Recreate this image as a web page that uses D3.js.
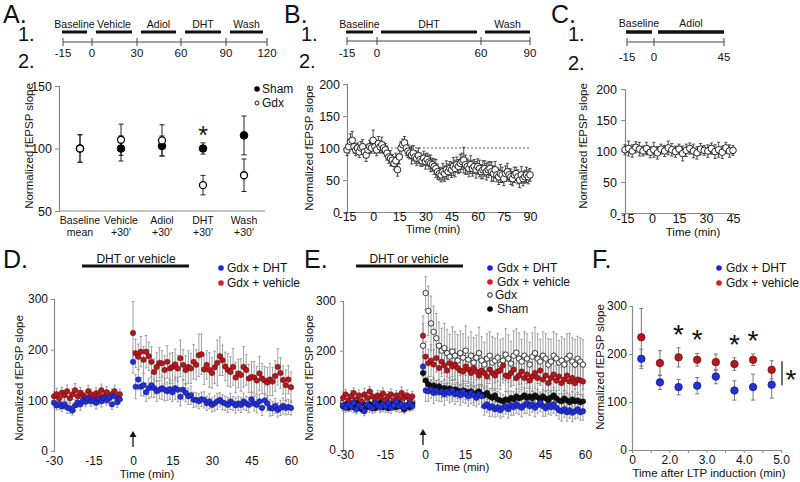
<!DOCTYPE html>
<html><head><meta charset="utf-8">
<script src="https://cdn.jsdelivr.net/npm/d3@7"></script>
<style>body{margin:0;background:#fff}svg{display:block}</style>
</head><body><script>
// ================= DATA =================
// Panel A
const phasesA = ["Baseline","Vehicle","Adiol","DHT","Wash"];
const phaseStartA = [-15,0,30,60,90];
const phaseEndA = [0,30,60,90,120];
const timeTicksA = [-15,0,30,60,90,120];
const catsA = ["Baseline","Vehicle","Adiol","DHT","Wash"];
const catSubA = ["mean","+30'","+30'","+30'","+30'"];
const shamA = [100,100,102,100,110.5];
const shamErrA = [11,10,8,4.5,15.5];
const gdxA = [100,107,106.5,70.7,78.6];
const gdxErrA = [11,12.5,12.5,7.8,13];
const yTicksA = [50,100,150];
const sigA = ["DHT"];
// Panel B
const phasesB = ["Baseline","DHT","Wash"];
const phaseStartB = [-15,0,60];
const phaseEndB = [0,60,90];
const timeTicksB = [-15,0,60,90];
const startB = -15;
const slopeB = [97,102,110,112,102,97,100,94,100,102,94,89,97,102,100,
  112,102,97,107,102,105,100,97,92,86,84,81,76,80,66,
  86,100,105,108,100,95,92,89,92,86,84,88,82,80,84,
  79,82,78,76,74,71,68,63,60,58,63,60,66,63,68,
  66,71,68,74,71,76,79,81,74,71,68,74,68,71,66,
  71,68,63,66,68,63,66,68,63,60,66,58,55,60,58,
  52,60,63,58,55,52,58,60,55,50,58,52,55,58,55,58];
const errB = [9,10,12,14,10,9,8,9,10,11,9,10,9,10,8,
  16,10,9,11,10,12,9,10,11,10,12,9,10,12,10,
  11,10,9,10,12,10,9,14,12,10,11,12,10,9,11,
  12,10,11,13,10,12,14,12,10,11,13,12,14,12,11,
  12,14,13,12,11,14,13,20,15,12,13,14,12,11,13,
  12,13,11,14,12,13,12,11,15,12,13,11,12,14,12,
  11,12,13,10,12,11,12,10,11,12,13,11,10,12,11,10];
const yTicksBC = [0,50,100,150,200];
const xTicksB = [-15,0,15,30,45,60,75,90];
// Panel C
const phasesC = ["Baseline","Adiol"];
const phaseStartC = [-15,0];
const phaseEndC = [0,45];
const timeTicksC = [-15,0,45];
const startC = -15, stepC = 2;
const slopeC = [102,104,100,106,103,100,104,98,102,97,103,100,105,102,99,103,96,101,104,100,97,103,101,100,104,99,102,98,105,100,101];
const errC = [8,12,10,9,11,8,10,9,12,10,8,9,11,10,9,8,12,10,9,11,10,9,8,10,9,11,12,10,9,10,8];
const xTicksC = [-15,0,15,30,45];
// Panel D
const dBaseStart = -30;
const dRedBase = [108,112,104,115,110,118,104,112,120,108,115,110,106,118,112,105,114,110,120,108,116,104,112,118,106,112];
const dRedBaseErr = [10,12,9,11,10,12,9,10,13,10,11,9,10,12,10,9,11,10,12,10,11,9,10,12,9,10];
const dBlueBase = [95,90,93,88,92,86,84,80,90,96,92,100,97,104,98,100,95,102,98,104,100,106,92,108,96,102];
const dBlueBaseErr = [10,9,11,10,9,12,10,9,11,10,12,9,10,11,10,9,12,10,11,10,9,12,10,11,10,9];
const dRed = [233,193,186,196,180,196,187,176,156,166,174,173,160,176,163,166,171,163,183,170,160,166,163,176,170,189,191,161,170,160,154,165,174,187,179,167,160,156,166,145,153,150,166,160,143,146,145,139,153,143,139,135,141,137,148,166,154,140,130,141,126];
const dRedErr = [62,28,25,30,26,32,28,30,26,28,30,25,28,32,30,28,30,26,36,30,28,32,30,34,30,42,40,30,28,34,30,32,45,38,30,28,32,30,36,30,28,32,40,30,28,30,32,28,34,30,28,30,32,28,30,36,30,28,30,28,30];
const dBlue = [176,127,141,127,130,116,124,130,124,118,121,124,121,118,122,116,124,121,107,121,115,108,110,101,101,98,102,101,94,98,91,94,98,101,96,94,91,98,94,90,94,91,98,94,91,102,94,91,98,85,100,94,85,84,89,81,85,89,85,87,85];
const dBlueErr = [22,24,20,18,22,18,20,24,18,20,18,22,22,18,20,18,22,24,18,20,18,16,18,15,14,15,14,16,14,15,14,15,16,14,15,14,15,16,14,15,14,15,16,14,15,14,15,16,14,15,14,15,16,14,15,14,15,16,14,15,14];
const xTicksDE = [-30,-15,0,15,30,45,60];
const yTicksDEF = [0,100,200,300];
// Panel E
const eBaseStart = -30;
const eRedBase = [105,112,100,108,115,102,110,98,112,105,118,108,100,110,106,114,102,108,112,100,110,104,115,106,110,100,108];
const eRedBaseErr = [12,10,11,12,10,13,11,10,12,11,10,12,11,10,13,11,12,10,11,12,10,11,12,10,11,12,10];
const eBlueBase = [90,85,92,88,95,82,90,86,78,92,88,84,95,90,86,92,88,95,85,90,98,88,92,85,90,94,88];
const eBlueBaseErr = [10,9,11,10,12,9,10,11,9,10,12,10,9,11,10,9,12,10,11,9,10,12,10,9,11,10,9];
const eShamBase = [88,92,85,90,86,94,88,82,90,86,92,88,84,90,95,86,90,84,92,88,86,94,88,82,90,86,92];
const eShamBaseErr = [9,10,8,9,11,10,9,8,10,9,11,10,9,8,10,9,11,9,10,8,9,10,11,9,10,8,9];
const eGdxBase = [95,98,92,100,96,90,98,94,102,96,92,100,95,98,90,96,100,94,98,92,96,100,88,95,98,92,96];
const eGdxBaseErr = [12,14,11,13,12,15,12,13,11,14,12,13,15,12,11,13,12,14,12,13,11,14,12,13,12,11,13];
const eRed = [230,188,175,180,172,185,165,178,170,160,175,168,172,165,160,158,168,162,155,165,158,150,160,155,148,162,155,150,158,160,170,150,148,155,162,145,150,158,145,152,140,148,155,145,160,142,150,135,145,152,140,148,135,142,150,138,145,135,142,140,138];
const eRedErr = [40,30,28,32,30,28,32,30,28,35,30,28,32,30,28,32,30,28,32,30,35,30,28,32,30,28,32,30,35,30,28,32,30,28,32,30,28,32,30,28,35,30,28,32,30,28,32,30,28,32,30,28,32,30,35,30,28,32,30,28,30];
const eBlue = [168,120,118,122,115,120,116,118,112,118,115,120,112,115,110,118,112,108,115,110,105,112,108,88,92,85,88,82,86,80,85,88,82,90,86,92,88,85,90,94,88,92,85,90,95,88,84,90,86,92,85,80,78,82,76,80,75,78,82,76,78];
const eBlueErr = [20,22,20,18,22,20,18,20,22,18,20,22,20,18,20,22,18,20,22,20,18,20,22,18,16,18,20,16,18,16,18,16,18,20,16,18,16,18,16,20,18,16,18,16,18,20,16,18,16,18,16,18,20,16,18,16,18,16,18,16,18];
const eSham = [155,140,132,128,130,125,128,122,125,120,124,118,122,120,116,120,118,115,118,112,115,118,112,110,115,108,105,110,102,100,98,102,100,105,102,108,104,106,110,105,108,104,110,106,102,108,104,100,106,110,104,100,98,104,100,96,102,98,100,96,98];
const eShamErr = [18,16,15,14,16,15,14,16,15,14,16,15,14,16,15,14,16,15,14,16,15,14,16,15,14,16,15,14,16,15,14,16,15,14,16,15,14,16,15,14,16,15,14,16,15,14,16,15,14,16,15,14,16,15,14,16,15,14,16,15,14];
const eGdx = [210,316,280,255,238,225,210,200,205,195,188,198,190,180,195,186,200,182,190,176,186,195,180,172,184,190,176,180,186,172,180,192,184,174,190,196,184,178,190,184,172,188,195,184,178,190,184,172,178,190,184,176,180,172,184,190,178,172,184,178,172];
const eGdxErr = [45,33,50,55,52,50,48,45,50,48,45,50,48,52,45,48,50,45,48,50,45,52,48,45,50,48,52,45,48,50,45,52,48,45,50,48,52,45,48,50,45,48,52,50,45,48,50,52,45,48,50,45,48,52,50,45,48,50,45,48,50];
// Panel F
const fBins = [0.25,0.75,1.25,1.75,2.25,2.75,3.25,3.75];
const fDHT = [190,141,131,134,153,124,131,136];
const fDHTErr = [20,15,16,17,15,20,27,28];
const fVeh = [235,181,193,188,183,179,188,167];
const fVehErr = [60,26,20,13,17,13,12,19];
const fSig = [1.25,1.75,2.75,3.25];
const fTickVals = [0,0.5,1,1.5,2,2.5,3,3.5,4];
const fTickLabels = ["0","","2.0","","3.0","","4.0","","5.0"];
const fSigBar = [185,135];

// ================= DRAW =================
const FONT = "'Liberation Sans', Arial, Helvetica, sans-serif";
const AX = "#8a8a8a";
const BLUE = "#2230d8", BLUE_E = "#0c1170", RED = "#b5171c", RED_E = "#5c0808";
const svg = d3.select("body").append("svg").attr("width",800).attr("height",482)
  .attr("font-family",FONT);
svg.append("rect").attr("width",800).attr("height",482).attr("fill","#fff");

function text(g,x,y,s,size,anchor,extra){
  const t = g.append("text").attr("x",x).attr("y",y).text(s)
    .attr("font-size",size).attr("fill","#111").attr("text-anchor",anchor||"start");
  if(extra) extra(t);
  return t;
}
function vlabel(g,x,y,s,size){
  g.append("text").attr("transform",`translate(${x},${y}) rotate(-90)`)
    .attr("text-anchor","middle").attr("font-size",size).attr("fill","#111").text(s);
}
function styleAxis(sel,fs){
  sel.attr("font-family",FONT).attr("font-size",fs);
  sel.select(".domain").attr("stroke",AX).attr("stroke-width",1.2);
  sel.selectAll(".tick line").attr("stroke",AX);
  sel.selectAll(".tick text").attr("fill","#111");
}
function timeline(g,sc,phases,starts,ends,ticks,o){
  phases.forEach((p,i)=>{
    const x1 = sc(starts[i]) + (i===0? -1 : o.inL);
    const x2 = sc(ends[i]) - (i===phases.length-1 ? o.inLast : o.inR);
    g.append("line").attr("x1",x1).attr("x2",x2).attr("y1",o.barY).attr("y2",o.barY)
      .attr("stroke","#111").attr("stroke-width",o.barW);
    text(g,(x1+x2)/2,o.labY,p,10.5,"middle");
  });
  g.append("line").attr("x1",sc(ticks[0])).attr("x2",sc(ticks[ticks.length-1]))
    .attr("y1",o.axY).attr("y2",o.axY).attr("stroke","#444").attr("stroke-width",1);
  ticks.forEach(t=>{
    g.append("line").attr("x1",sc(t)).attr("x2",sc(t)).attr("y1",o.axY-4).attr("y2",o.axY+4)
      .attr("stroke","#444");
    text(g,sc(t),o.tickY,String(t),11.5,"middle");
  });
}
function errBars(g,xs,vals,errs,x,y,color,cap,w){
  vals.forEach((v,i)=>{
    const e = errs[i]; const cx = x(xs[i]);
    g.append("line").attr("x1",cx).attr("x2",cx).attr("y1",y(v+e)).attr("y2",y(v-e))
      .attr("stroke",color).attr("stroke-width",w);
    [v+e,v-e].forEach(vv=>g.append("line").attr("x1",cx-cap).attr("x2",cx+cap)
      .attr("y1",y(vv)).attr("y2",y(vv)).attr("stroke",color).attr("stroke-width",w));
  });
}
function dots(g,xs,vals,x,y,r,fill,stroke,sw){
  g.selectAll(null).data(vals).enter().append("circle")
    .attr("cx",(d,i)=>x(xs[i])).attr("cy",d=>y(d)).attr("r",r)
    .attr("fill",fill).attr("stroke",stroke).attr("stroke-width",sw);
}
function asterisk(g,cx,cy,fs){ text(g,cx,cy+0.57*fs,"*",fs,"middle"); }

// ---------- Panel A ----------
{
  const g = svg.append("g");
  text(g,3,23,"A.",25);
  text(g,18,41,"1.",20); text(g,18,68,"2.",20);
  const sc = d3.scaleLinear().domain(timeTicksA).range([63,92,137,181,226,267]);
  timeline(g,sc,phasesA,phaseStartA,phaseEndA,timeTicksA,{inL:4,inR:5,inLast:4,barY:32,barW:3,labY:28,axY:42,tickY:57});
  const y = d3.scaleLinear().domain([50,150]).range([211,86]);
  const x = d3.scalePoint().domain(catsA).range([80,244]);
  const ax = g.append("g").attr("transform","translate(59,0)")
    .call(d3.axisLeft(y).tickValues(yTicksA).tickSize(4).tickPadding(3).tickFormat(String));
  styleAxis(ax,12.5);
  g.append("line").attr("x1",59).attr("x2",265).attr("y1",211).attr("y2",211).attr("stroke",AX).attr("stroke-width",1.2);
  catsA.forEach((c,i)=>{ text(g,x(c),224,c,10.5,"middle"); text(g,x(c),236,catSubA[i],10.5,"middle"); });
  vlabel(g,33,146,"Normalized fEPSP slope",11.5);
  errBars(g,catsA,gdxA,gdxErrA,x,y,"#222",2.5,1);
  errBars(g,catsA,shamA,shamErrA,x,y,"#222",2.5,1);
  dots(g,catsA,shamA,x,y,3.8,"#000","#000",1);
  dots(g,catsA,gdxA,x,y,3.5,"#fff","#000",1.3);
  sigA.forEach(c=>{ const i=catsA.indexOf(c); asterisk(g,x(c),y(shamA[i]+shamErrA[i])-13,25); });
  g.append("circle").attr("cx",257).attr("cy",89).attr("r",2.8).attr("fill","#000");
  text(g,262,93,"Sham",12);
  g.append("circle").attr("cx",257).attr("cy",103).attr("r",2).attr("fill","#fff").attr("stroke","#000").attr("stroke-width",0.9);
  text(g,262,107,"Gdx",12);
}
// ---------- Panel B ----------
{
  const g = svg.append("g");
  text(g,284,23,"B.",25);
  text(g,301,41,"1.",20); text(g,299,68,"2.",20);
  const sc = d3.scaleLinear().domain(timeTicksB).range([347,377,481,530]);
  timeline(g,sc,phasesB,phaseStartB,phaseEndB,timeTicksB,{inL:4,inR:4,inLast:0,barY:32,barW:3,labY:28,axY:41,tickY:57});
  const x = d3.scaleLinear().domain([-15,90]).range([347,530]);
  const y = d3.scaleLinear().domain([0,200]).range([212,84]);
  const ts = slopeB.map((d,i)=>startB+i);
  g.append("line").attr("x1",x(-15)).attr("x2",x(90)).attr("y1",y(100)).attr("y2",y(100))
    .attr("stroke","#333").attr("stroke-width",0.8).attr("stroke-dasharray","2,2");
  const ay = g.append("g").attr("transform","translate(347,0)")
    .call(d3.axisLeft(y).tickValues(yTicksBC).tickSize(4).tickPadding(3).tickFormat(String));
  styleAxis(ay,12.5);
  const axb = g.append("g").attr("transform","translate(0,212)")
    .call(d3.axisBottom(x).tickValues(xTicksB).tickSize(2).tickPadding(-2).tickFormat(String));
  styleAxis(axb,12.5);
  vlabel(g,313,148,"Normalized fEPSP slope",11.5);
  text(g,433,233,"Time (min)",11.5,"middle");
  errBars(g,ts,slopeB,errB,x,y,"#3a3a3a",1.6,0.9);
  dots(g,ts,slopeB,x,y,3.3,"#fff","#222",1);
}
// ---------- Panel C ----------
{
  const g = svg.append("g");
  text(g,551,23,"C.",25);
  text(g,568,41,"1.",20); text(g,568,70,"2.",20);
  const sc = d3.scaleLinear().domain(timeTicksC).range([627,654,724]);
  timeline(g,sc,phasesC,phaseStartC,phaseEndC,timeTicksC,{inL:4,inR:2,inLast:0,barY:32,barW:3.5,labY:27,axY:42,tickY:61});
  const x = d3.scaleLinear().domain([-15,45]).range([625,733]);
  const y = d3.scaleLinear().domain([0,200]).range([213,89]);
  const ts = slopeC.map((d,i)=>startC+i*stepC);
  const ay = g.append("g").attr("transform","translate(625,0)")
    .call(d3.axisLeft(y).tickValues(yTicksBC).tickSize(4).tickPadding(4).tickFormat(String));
  styleAxis(ay,12.5);
  const axb = g.append("g").attr("transform","translate(0,213)")
    .call(d3.axisBottom(x).tickValues(xTicksC).tickSize(2).tickPadding(-1).tickFormat(String));
  styleAxis(axb,12.5);
  vlabel(g,587,146,"Normalized fEPSP slope",11.5);
  text(g,693,236,"Time (min)",11.5,"middle");
  errBars(g,ts,slopeC,errC,x,y,"#3a3a3a",1.6,0.9);
  dots(g,ts,slopeC,x,y,3.3,"#fff","#222",1);
}
// ---------- Panel D ----------
{
  const g = svg.append("g");
  text(g,3,268,"D.",25);
  const x = d3.scaleLinear().domain([-30,60]).range([54,291]);
  const y = d3.scaleLinear().domain([0,300]).range([451,299]);
  g.append("line").attr("x1",82).attr("x2",189).attr("y1",266).attr("y2",266).attr("stroke","#111").attr("stroke-width",3);
  text(g,136,263,"DHT or vehicle",12,"middle");
  g.append("circle").attr("cx",221).attr("cy",268).attr("r",2.8).attr("fill","#1a22e6");
  text(g,227,272,"Gdx + DHT",12);
  g.append("circle").attr("cx",221).attr("cy",283).attr("r",2.8).attr("fill","#e0191e");
  text(g,227,287,"Gdx + vehicle",12);
  const ay = g.append("g").attr("transform","translate(54,0)")
    .call(d3.axisLeft(y).tickValues(yTicksDEF).tickSize(3).tickPadding(3).tickFormat(String));
  styleAxis(ay,12);
  const axb = g.append("g").attr("transform","translate(0,451)")
    .call(d3.axisBottom(x).tickValues(xTicksDE).tickSize(0).tickPadding(5).tickFormat(String));
  styleAxis(axb,12); axb.select(".domain").remove();
  vlabel(g,23,378,"Normalized fEPSP slope",11.5);
  text(g,147,478,"Time (min)",11.5,"middle");
  const tb = dRedBase.map((d,i)=>dBaseStart+i), tp = dRed.map((d,i)=>i);
  errBars(g,tb,dRedBase,dRedBaseErr,x,y,"#8c8c8c",1.3,0.8);
  errBars(g,tp,dRed,dRedErr,x,y,"#8c8c8c",1.3,0.8);
  errBars(g,tb,dBlueBase,dBlueBaseErr,x,y,"#8c8c8c",1.3,0.8);
  errBars(g,tp,dBlue,dBlueErr,x,y,"#8c8c8c",1.3,0.8);
  dots(g,tb,dRedBase,x,y,2.7,RED,RED_E,0.5);
  dots(g,tp,dRed,x,y,2.7,RED,RED_E,0.5);
  dots(g,tb,dBlueBase,x,y,2.7,BLUE,BLUE_E,0.5);
  dots(g,tp,dBlue,x,y,2.7,BLUE,BLUE_E,0.5);
  g.append("line").attr("x1",x(0)).attr("x2",x(0)).attr("y1",447).attr("y2",436).attr("stroke","#111").attr("stroke-width",1.3);
  g.append("path").attr("d",`M${x(0)-3.5},437 L${x(0)},431 L${x(0)+3.5},437 Z`).attr("fill","#111");
}
// ---------- Panel E ----------
{
  const g = svg.append("g");
  text(g,304,268,"E.",25);
  const x = d3.scaleLinear().domain([-30,60]).range([343,583]);
  const y = d3.scaleLinear().domain([0,300]).range([450,301]);
  g.append("line").attr("x1",356).attr("x2",463).attr("y1",266).attr("y2",266).attr("stroke","#111").attr("stroke-width",3);
  text(g,409,263,"DHT or vehicle",12,"middle");
  g.append("circle").attr("cx",490).attr("cy",268).attr("r",2.8).attr("fill","#1a22e6");
  text(g,497,272,"Gdx + DHT",12);
  g.append("circle").attr("cx",490).attr("cy",282).attr("r",2.8).attr("fill","#e0191e");
  text(g,497,286,"Gdx + vehicle",12);
  g.append("circle").attr("cx",490).attr("cy",295).attr("r",2.3).attr("fill","#fff").attr("stroke","#111").attr("stroke-width",1);
  text(g,495,299,"Gdx",12);
  g.append("circle").attr("cx",490).attr("cy",309).attr("r",2.8).attr("fill","#000");
  text(g,497,313,"Sham",12);
  const ay = g.append("g").attr("transform","translate(343,0)")
    .call(d3.axisLeft(y).tickValues(yTicksDEF).tickSize(3).tickPadding(4).tickFormat(String));
  styleAxis(ay,12);
  const axb = g.append("g").attr("transform","translate(2,450)")
    .call(d3.axisBottom(x).tickValues(xTicksDE).tickSize(0).tickPadding(0).tickFormat(String));
  styleAxis(axb,12); axb.select(".domain").remove();
  vlabel(g,313,378,"Normalized fEPSP slope",11.5);
  text(g,462,471,"Time (min)",11.5,"middle");
  const tb = eRedBase.map((d,i)=>eBaseStart+i), tp = eRed.map((d,i)=>i);
  const series = [
    [eGdxBase,eGdxBaseErr,eGdx,eGdxErr,"#fff","#222",2.7],
    [eRedBase,eRedBaseErr,eRed,eRedErr,RED,RED_E,2.7],
    [eShamBase,eShamBaseErr,eSham,eShamErr,"#111","#000",2.7],
    [eBlueBase,eBlueBaseErr,eBlue,eBlueErr,BLUE,BLUE_E,2.7]
  ];
  series.forEach(s=>{
    errBars(g,tb,s[0],s[1],x,y,"#8c8c8c",1.3,0.8);
    errBars(g,tp,s[2],s[3],x,y,"#8c8c8c",1.3,0.8);
  });
  series.forEach(s=>{
    dots(g,tb,s[0],x,y,s[6],s[4],s[5],s[4]==="#fff"?0.9:0.5);
    dots(g,tp,s[2],x,y,s[6],s[4],s[5],s[4]==="#fff"?0.9:0.5);
  });
  g.append("line").attr("x1",x(0)).attr("x2",x(0)).attr("y1",445).attr("y2",434).attr("stroke","#111").attr("stroke-width",1.3);
  g.append("path").attr("d",`M${x(0)-3.5},435 L${x(0)},429 L${x(0)+3.5},435 Z`).attr("fill","#111");
}
// ---------- Panel F ----------
{
  const g = svg.append("g");
  text(g,592,268,"F.",25);
  const x = d3.scaleLinear().domain([0,4]).range([632,781]);
  const y = d3.scaleLinear().domain([0,300]).range([450,306]);
  g.append("circle").attr("cx",719).attr("cy",268).attr("r",2.8).attr("fill","#1a22e6");
  text(g,726,272,"Gdx + DHT",12);
  g.append("circle").attr("cx",719).attr("cy",283).attr("r",2.8).attr("fill","#e0191e");
  text(g,726,287,"Gdx + vehicle",12);
  const ay = g.append("g").attr("transform","translate(632,0)")
    .call(d3.axisLeft(y).tickValues(yTicksDEF).tickSize(3).tickPadding(2).tickFormat(String));
  styleAxis(ay,12);
  const axb = g.append("g").attr("transform","translate(0,450)")
    .call(d3.axisBottom(x).tickValues(fTickVals).tickSize(3).tickPadding(2).tickFormat((d,i)=>fTickLabels[i]));
  styleAxis(axb,12);
  vlabel(g,604,367,"Normalized fEPSP slope",11.5);
  text(g,709,477,"Time after LTP induction (min)",11.5,"middle");
  errBars(g,fBins,fVeh,fVehErr,x,y,"#777",2,1);
  errBars(g,fBins,fDHT,fDHTErr,x,y,"#777",2,1);
  dots(g,fBins,fVeh,x,y,3.8,RED,RED_E,0.6);
  dots(g,fBins,fDHT,x,y,3.8,BLUE,BLUE_E,0.6);
  fSig.forEach(b=>{ const i=fBins.indexOf(b); asterisk(g,x(b),y(fVeh[i]+fVehErr[i])-20,28); });
  g.append("line").attr("x1",782).attr("x2",782).attr("y1",y(fSigBar[0])).attr("y2",y(fSigBar[1])).attr("stroke","#111").attr("stroke-width",1.2);
  asterisk(g,791,373,28);
}
</script></body></html>
